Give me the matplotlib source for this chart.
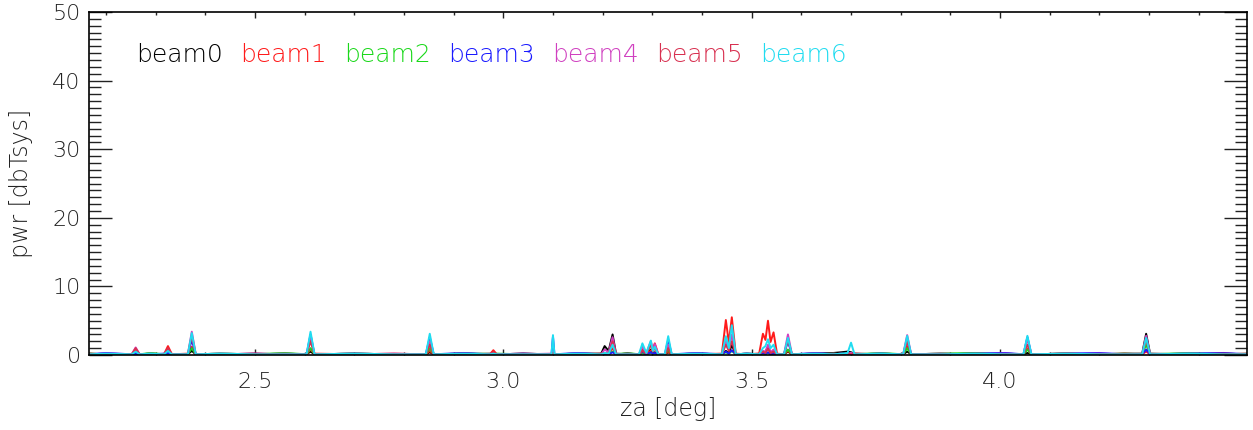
import numpy as np
import matplotlib
matplotlib.use('Agg')
import matplotlib.pyplot as plt
from matplotlib.ticker import MultipleLocator

# zenith angle grid [deg]
za = [2.166, 2.20, 2.252, 2.260, 2.268, 2.290, 2.317, 2.325, 2.333,
      2.365, 2.373, 2.381, 2.43, 2.50, 2.56, 2.604, 2.612, 2.620,
      2.70, 2.78, 2.844, 2.852, 2.860, 2.92, 2.973, 2.980, 2.987,
      3.04, 3.097, 3.100, 3.103, 3.15, 3.197, 3.204, 3.212, 3.220, 3.227,
      3.25, 3.273, 3.280, 3.288, 3.297, 3.301, 3.305, 3.312, 3.325, 3.332, 3.339,
      3.39, 3.440, 3.448, 3.454, 3.460, 3.468, 3.49,
      3.515, 3.5226, 3.5277, 3.5328, 3.538, 3.544, 3.551, 3.565, 3.573, 3.581,
      3.63, 3.665, 3.680, 3.693, 3.700, 3.707, 3.76, 3.805, 3.813, 3.821,
      3.88, 3.95, 4.01, 4.047, 4.055, 4.063, 4.13, 4.20, 4.25,
      4.286, 4.294, 4.302, 4.38, 4.45, 4.50]

beam0 = [0.2, 0.1, 0.1, 0.3, 0.1, 0.2, 0.1, 0.2, 0.1,
         0.1, 0.6, 0.1, 0.2, 0.1, 0.2, 0.1, 0.5, 0.1,
         0.2, 0.1, 0.1, 0.4, 0.1, 0.2, 0.1, 0.2, 0.1,
         0.2, 0.1, 0.3, 0.1, 0.2, 0.2, 1.3, 0.6, 3.0, 0.2,
         0.1, 0.1, 0.3, 0.2, 0.8, 0.3, 0.4, 0.1, 0.1, 0.4, 0.1,
         0.2, 0.1, 0.6, 0.3, 1.45, 0.1, 0.2,
         0.1, 0.3, 0.4, 1.2, 0.3, 0.5, 0.1, 0.1, 0.5, 0.1,
         0.2, 0.3, 0.4, 0.5, 0.4, 0.2, 0.1, 0.1, 0.5, 0.1,
         0.2, 0.1, 0.2, 0.1, 0.3, 0.1, 0.2, 0.1, 0.2,
         0.2, 3.1, 0.2, 0.1, 0.2, 0.1]
beam1 = [0.1, 0.2, 0.1, 0.6, 0.1, 0.2, 0.1, 1.3, 0.1,
         0.2, 1.2, 0.1, 0.1, 0.2, 0.1, 0.1, 0.8, 0.2,
         0.1, 0.2, 0.1, 0.6, 0.1, 0.1, 0.1, 0.7, 0.1,
         0.2, 0.1, 0.3, 0.1, 0.1, 0.1, 0.3, 0.2, 1.0, 0.1,
         0.2, 0.1, 0.8, 0.3, 0.6, 0.9, 1.7, 0.1, 0.1, 0.5, 0.1,
         0.1, 0.2, 5.1, 1.8, 5.5, 0.2, 0.1,
         0.2, 3.1, 2.2, 5.0, 1.9, 3.3, 0.2, 0.1, 0.6, 0.1,
         0.2, 0.1, 0.2, 0.1, 0.3, 0.1, 0.2, 0.1, 1.3, 0.1,
         0.1, 0.2, 0.1, 0.1, 0.9, 0.1, 0.2, 0.1, 0.1,
         0.1, 0.5, 0.1, 0.2, 0.1, 0.2]
beam2 = [0.2, 0.1, 0.1, 0.2, 0.1, 0.3, 0.1, 0.2, 0.1,
         0.1, 1.0, 0.1, 0.2, 0.1, 0.3, 0.1, 1.0, 0.1,
         0.2, 0.1, 0.1, 1.0, 0.1, 0.2, 0.2, 0.1, 0.2,
         0.1, 0.1, 0.3, 0.1, 0.2, 0.1, 0.2, 0.1, 0.5, 0.1,
         0.3, 0.1, 0.2, 0.1, 0.3, 0.2, 0.2, 0.1, 0.1, 0.8, 0.1,
         0.2, 0.1, 0.4, 0.2, 0.6, 0.1, 0.2,
         0.1, 0.2, 0.1, 0.3, 0.1, 0.2, 0.1, 0.1, 0.8, 0.1,
         0.1, 0.2, 0.1, 0.1, 0.2, 0.1, 0.3, 0.1, 1.0, 0.1,
         0.2, 0.3, 0.1, 0.1, 0.8, 0.1, 0.2, 0.1, 0.2,
         0.1, 1.5, 0.1, 0.3, 0.1, 0.2]
beam3 = [0.1, 0.3, 0.1, 0.2, 0.1, 0.1, 0.2, 0.3, 0.1,
         0.1, 2.2, 0.1, 0.1, 0.2, 0.1, 0.1, 3.0, 0.1,
         0.2, 0.1, 0.1, 2.6, 0.1, 0.3, 0.1, 0.2, 0.1,
         0.2, 0.1, 2.7, 0.1, 0.3, 0.1, 0.2, 0.1, 0.4, 0.1,
         0.2, 0.1, 0.5, 0.1, 0.4, 0.2, 0.3, 0.1, 0.1, 2.2, 0.1,
         0.3, 0.1, 0.5, 0.2, 0.7, 0.1, 0.2,
         0.1, 0.3, 0.2, 0.4, 0.1, 0.2, 0.1, 0.1, 2.0, 0.1,
         0.3, 0.1, 0.2, 0.1, 0.2, 0.1, 0.2, 0.1, 2.4, 0.1,
         0.1, 0.2, 0.3, 0.1, 2.6, 0.1, 0.2, 0.3, 0.1,
         0.1, 0.8, 0.1, 0.2, 0.3, 0.1]
beam4 = [0.1, 0.2, 0.1, 1.1, 0.1, 0.2, 0.1, 0.8, 0.1,
         0.1, 3.4, 0.1, 0.2, 0.1, 0.2, 0.1, 2.5, 0.1,
         0.1, 0.2, 0.1, 2.0, 0.1, 0.1, 0.2, 0.3, 0.1,
         0.1, 0.2, 0.4, 0.1, 0.2, 0.1, 0.8, 0.4, 2.6, 0.1,
         0.1, 0.1, 1.2, 0.3, 2.0, 0.8, 1.6, 0.1, 0.1, 1.5, 0.1,
         0.2, 0.1, 2.0, 0.8, 3.0, 0.1, 0.2,
         0.1, 0.6, 0.5, 1.5, 0.4, 0.8, 0.1, 0.1, 3.0, 0.1,
         0.1, 0.2, 0.1, 0.2, 0.3, 0.1, 0.2, 0.1, 2.9, 0.1,
         0.2, 0.1, 0.2, 0.1, 2.4, 0.1, 0.1, 0.2, 0.1,
         0.1, 2.8, 0.1, 0.2, 0.1, 0.2]
beam5 = [0.2, 0.1, 0.1, 1.0, 0.1, 0.1, 0.1, 1.0, 0.1,
         0.1, 2.8, 0.1, 0.1, 0.2, 0.1, 0.1, 2.0, 0.1,
         0.2, 0.1, 0.1, 1.5, 0.1, 0.2, 0.1, 0.4, 0.1,
         0.1, 0.1, 0.3, 0.1, 0.1, 0.2, 0.3, 0.2, 2.0, 0.1,
         0.2, 0.1, 0.6, 0.2, 1.5, 0.5, 1.0, 0.1, 0.1, 1.0, 0.1,
         0.1, 0.1, 1.5, 0.6, 2.0, 0.1, 0.1,
         0.2, 0.5, 0.3, 0.9, 0.3, 0.5, 0.1, 0.1, 2.2, 0.1,
         0.2, 0.1, 0.1, 0.2, 0.1, 0.2, 0.1, 0.1, 2.0, 0.1,
         0.1, 0.2, 0.1, 0.1, 1.5, 0.1, 0.2, 0.1, 0.2,
         0.1, 2.2, 0.1, 0.1, 0.2, 0.1]
beam6 = [0.1, 0.2, 0.1, 0.5, 0.1, 0.2, 0.1, 0.6, 0.1,
         0.1, 3.2, 0.1, 0.2, 0.1, 0.1, 0.1, 3.4, 0.1,
         0.2, 0.1, 0.1, 3.1, 0.1, 0.2, 0.1, 0.2, 0.1,
         0.1, 0.1, 2.9, 0.1, 0.2, 0.1, 0.3, 0.2, 1.5, 0.1,
         0.1, 0.1, 1.7, 0.3, 2.1, 0.6, 1.2, 0.1, 0.1, 2.75, 0.1,
         0.2, 0.1, 2.75, 1.0, 4.35, 0.1, 0.2,
         0.1, 1.0, 1.3, 2.3, 1.0, 1.5, 0.1, 0.1, 2.5, 0.1,
         0.2, 0.1, 0.2, 0.3, 1.8, 0.1, 0.2, 0.1, 2.8, 0.1,
         0.1, 0.2, 0.1, 0.1, 2.8, 0.1, 0.2, 0.1, 0.1,
         0.1, 2.5, 0.1, 0.2, 0.1, 0.1]

names = ['beam0', 'beam1', 'beam2', 'beam3', 'beam4', 'beam5', 'beam6']
colors = ['#000000', '#ff1a1a', '#1ad81a', '#1a1aff', '#d040c0', '#d83050', '#20dcf0']
beams = [beam0, beam1, beam2, beam3, beam4, beam5, beam6]

plt.rcParams['font.family'] = ['DejaVu Sans']
plt.rcParams['font.weight'] = 'light'
plt.rcParams['axes.labelweight'] = 'light'

fig = plt.figure(figsize=(12.53, 4.30), dpi=100)
ax = fig.add_axes([0.0710, 0.1744, 0.9242, 0.7976])

for b, c in zip(beams, colors):
    ax.plot(za, b, c=c, lw=1.4)

ax.set_xlim(2.166, 4.497)
ax.set_ylim(0, 50)
ax.xaxis.set_major_locator(MultipleLocator(0.5))
ax.xaxis.set_minor_locator(MultipleLocator(0.1))
ax.yaxis.set_major_locator(MultipleLocator(10))
ax.yaxis.set_minor_locator(MultipleLocator(1))
ax.xaxis.set_major_formatter(plt.FormatStrFormatter('%.1f'))

ax.tick_params(which='both', direction='in', top=True, right=True,
               colors='#222222', labelsize=16)
ax.tick_params(axis='x', which='major', length=4.5, width=1, pad=12)
ax.tick_params(axis='x', which='minor', length=2.2, width=1)
ax.tick_params(axis='y', which='major', length=16.5, width=1, pad=6)
ax.tick_params(axis='y', which='minor', length=8.3, width=1)
for s in ax.spines.values():
    s.set_linewidth(1.2)
    s.set_color('black')

ax.set_xlabel('za [deg]', fontsize=17, color='#222222', labelpad=4, fontweight='light')
ax.set_ylabel('pwr [dbTsys]', fontsize=17, color='#222222', labelpad=14, fontweight='light')

for i, (n, c) in enumerate(zip(names, colors)):
    ax.text(0.0406 + i * 0.0898, 0.875, n, color=c, fontsize=18,
            transform=ax.transAxes, va='center', ha='left')

fig.savefig('out.png', dpi=100)
